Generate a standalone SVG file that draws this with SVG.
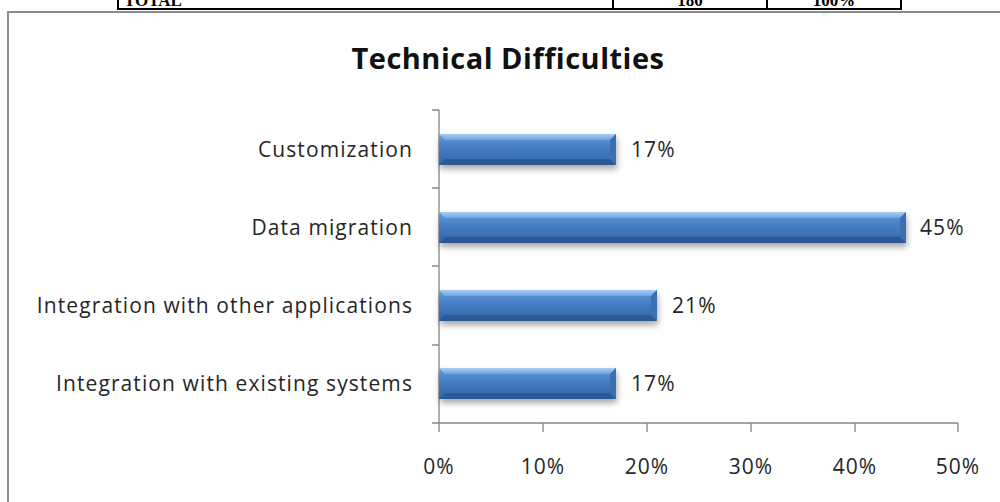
<svg xmlns="http://www.w3.org/2000/svg" width="1000" height="502" viewBox="0 0 1000 502">
<defs>
<linearGradient id="barG" x1="0" y1="0" x2="0" y2="1">
<stop offset="0" stop-color="#6a9fdc"/>
<stop offset="0.35" stop-color="#4a82c8"/>
<stop offset="1" stop-color="#2f64a6"/>
</linearGradient>
<linearGradient id="topBev" x1="0" y1="0" x2="0" y2="1">
<stop offset="0" stop-color="#a9cdf3"/>
<stop offset="1" stop-color="#6ea4e0"/>
</linearGradient>
<filter id="sh" x="-10%" y="-50%" width="120%" height="200%">
<feGaussianBlur in="SourceAlpha" stdDeviation="3"/>
<feOffset dx="1" dy="4" result="b"/>
<feComponentTransfer><feFuncA type="linear" slope="0.35"/></feComponentTransfer>
<feMerge><feMergeNode/><feMergeNode in="SourceGraphic"/></feMerge>
</filter>
</defs>
<style>
.tbl{fill:none;stroke:#000;stroke-width:2}
.tt{font-family:"Liberation Serif",serif;font-weight:bold;font-size:17px;fill:#000}
.frame{fill:#fff;stroke:#8c8c8c;stroke-width:2}
.ax{stroke:#868686;stroke-width:1.3;fill:none}
.lbl{font-family:"Open Sans",Lato,sans-serif;font-size:21px;letter-spacing:1.1px;fill:#262626}
.title{font-family:"Open Sans",Lato,sans-serif;font-size:29px;letter-spacing:0.5px;font-weight:bold;fill:#111}
.bot{fill:#2a5590;opacity:0.8}
.side{fill:#3a6fb4}
</style>
<g id="table">
<rect x="118" y="-20" width="783" height="29" class="tbl"/>
<line x1="613" y1="-20" x2="613" y2="9" class="tbl"/>
<line x1="767" y1="-20" x2="767" y2="9" class="tbl"/>
<text x="124" y="6" class="tt">TOTAL</text>
<text x="690" y="6" class="tt" text-anchor="middle">180</text>
<text x="834" y="6" class="tt" text-anchor="middle">100%</text>
</g>
<rect id="chart-frame" x="8" y="12" width="1000" height="500" class="frame"/>
<text id="title" x="508" y="69" class="title" text-anchor="middle">Technical Difficulties</text>
<g id="axes">
<path class="ax" d="M439 110V424M432 110H439M432 188H439M432 266H439M432 345H439M432 423H958M439 423V432M543 423V432M647 423V432M751 423V432M855 423V432M958 423V432"/>
<text x="439" y="474" class="lbl" text-anchor="middle">0%</text>
<text x="543" y="474" class="lbl" text-anchor="middle">10%</text>
<text x="647" y="474" class="lbl" text-anchor="middle">20%</text>
<text x="751" y="474" class="lbl" text-anchor="middle">30%</text>
<text x="855" y="474" class="lbl" text-anchor="middle">40%</text>
<text x="958" y="474" class="lbl" text-anchor="middle">50%</text>
</g>
<g id="bar-customization">
<g filter="url(#sh)">
<rect x="439" y="134" width="177" height="31" fill="url(#barG)"/>
</g>
<polygon points="439,134 616,134 610,140 445,140" fill="url(#topBev)"/>
<polygon points="439,165 616,165 610,159 445,159" class="bot"/>
<polygon points="616,134 616,165 610,159 610,140" class="side"/>
<text x="413" y="157" class="lbl" text-anchor="end">Customization</text>
<text x="631" y="157" class="lbl">17%</text>
</g>
<g id="bar-data-migration">
<g filter="url(#sh)">
<rect x="439" y="212" width="467" height="31" fill="url(#barG)"/>
</g>
<polygon points="439,212 906,212 900,218 445,218" fill="url(#topBev)"/>
<polygon points="439,243 906,243 900,237 445,237" class="bot"/>
<polygon points="906,212 906,243 900,237 900,218" class="side"/>
<text x="413" y="235" class="lbl" text-anchor="end">Data migration</text>
<text x="920" y="235" class="lbl">45%</text>
</g>
<g id="bar-integration-other">
<g filter="url(#sh)">
<rect x="439" y="290" width="218" height="31" fill="url(#barG)"/>
</g>
<polygon points="439,290 657,290 651,296 445,296" fill="url(#topBev)"/>
<polygon points="439,321 657,321 651,315 445,315" class="bot"/>
<polygon points="657,290 657,321 651,315 651,296" class="side"/>
<text x="413" y="313" class="lbl" text-anchor="end">Integration with other applications</text>
<text x="672" y="313" class="lbl">21%</text>
</g>
<g id="bar-integration-existing">
<g filter="url(#sh)">
<rect x="439" y="368" width="177" height="31" fill="url(#barG)"/>
</g>
<polygon points="439,368 616,368 610,374 445,374" fill="url(#topBev)"/>
<polygon points="439,399 616,399 610,393 445,393" class="bot"/>
<polygon points="616,368 616,399 610,393 610,374" class="side"/>
<text x="413" y="391" class="lbl" text-anchor="end">Integration with existing systems</text>
<text x="631" y="391" class="lbl">17%</text>
</g>
</svg>
